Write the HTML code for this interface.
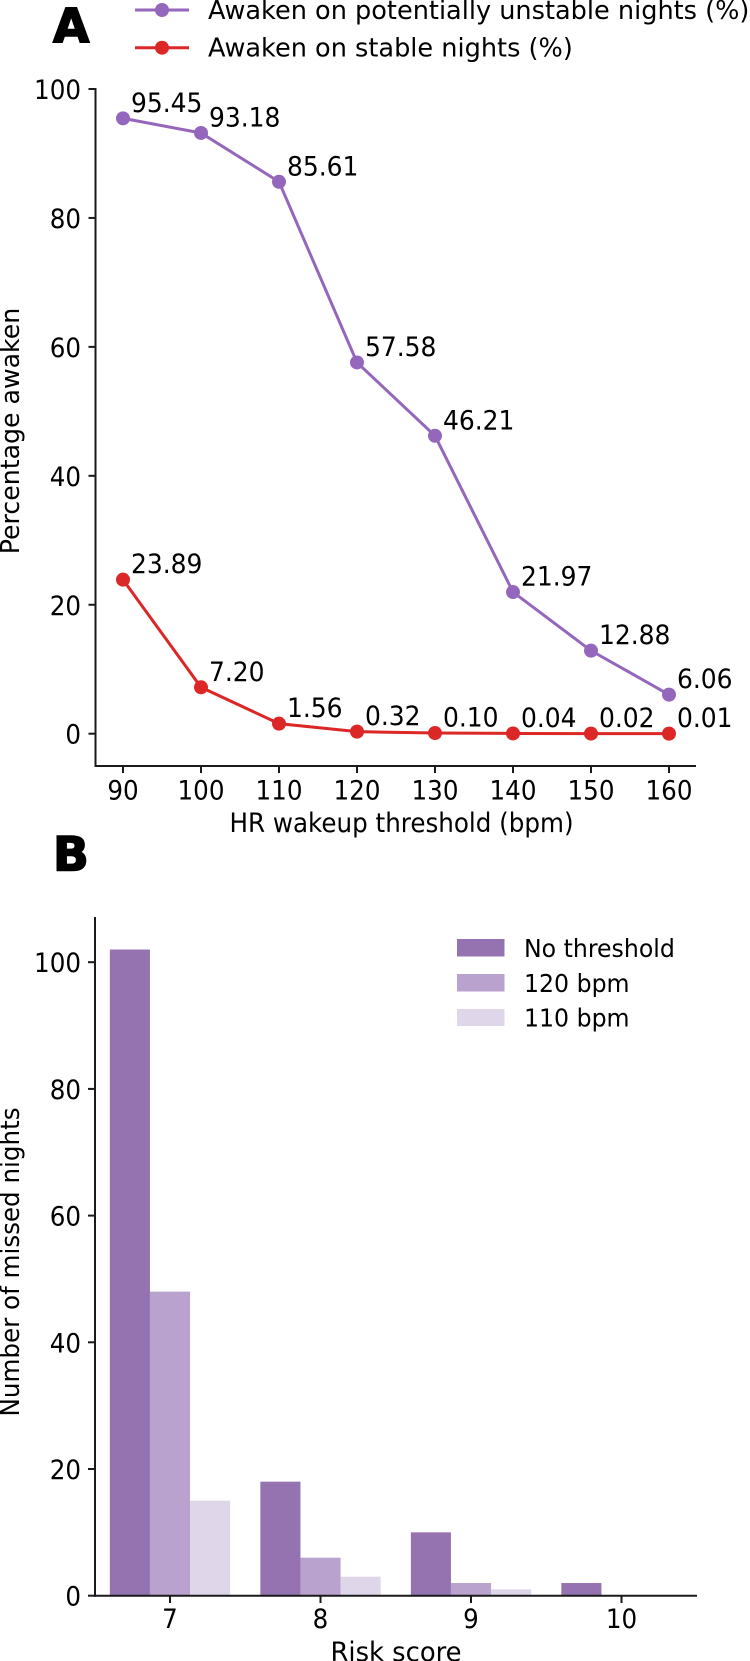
<!DOCTYPE html>
<html lang="en">
<head>
<meta charset="utf-8">
<title>Awakening chart</title>
<style>
html,body{margin:0;padding:0;background:#fff;}
body{width:750px;height:1661px;overflow:hidden;}
svg{display:block;}
text{font-family:"DejaVu Sans","Liberation Sans",sans-serif;fill:#000;}
</style>
</head>
<body>
<svg id="fig" xmlns="http://www.w3.org/2000/svg" width="750" height="1661" viewBox="0 0 750 1661"></svg>
<script>
// Panel A data
const thresholds = [90, 100, 110, 120, 130, 140, 150, 160];
const unstableValues = [95.45, 93.18, 85.61, 57.58, 46.21, 21.97, 12.88, 6.06];
const stableValues = [23.89, 7.20, 1.56, 0.32, 0.10, 0.04, 0.02, 0.01];
const yTicksA = [0, 20, 40, 60, 80, 100];
// Panel B data
const riskScores = [7, 8, 9, 10];
const noThreshold = [102, 18, 10, 2];
const bpm120 = [48, 6, 2, 0];
const bpm110 = [15, 3, 1, 0];
const yTicksB = [0, 20, 40, 60, 80, 100];

const NS = 'http://www.w3.org/2000/svg';
const fig = document.getElementById('fig');
const FS = 24.6;
const AXIS = '#1a1a1a';
const PURPLE = '#9467bd';
const RED = '#dc2727';
const BAR1 = '#9473b0';
const BAR2 = '#b9a2cd';
const BAR3 = '#dfd6e9';
const MARKER_R = 7;
const LINE_W = 3;

function mk(tag, attrs, text) {
  const el = document.createElementNS(NS, tag);
  for (const k in attrs) el.setAttribute(k, attrs[k]);
  if (text !== undefined) el.textContent = text;
  fig.appendChild(el);
  return el;
}
// text placed at (x, y) with independent horizontal / vertical stretch
function label(x, y, str, sx, sy, anchor, rotate) {
  const tf = 'translate(' + x + ',' + y + ')' + (rotate ? ' rotate(' + rotate + ')' : '') + ' scale(' + sx + ',' + sy + ')';
  return mk('text', {x: 0, y: 0, 'font-size': FS, 'text-anchor': anchor || 'start', transform: tf}, str);
}

// axis functions
const xA = v => 123 + (v - 90) * 7.8;
const yA = v => 733.7 - v * 6.447;
const xB = v => 170 + (v - 7) * 150.5;
const yB = v => 1595.7 - v * 6.335;

// ---------- Panel A ----------
let el = mk('text', {x: 53, y: 42.5, 'font-size': 47, 'font-weight': 'bold', stroke: '#000', 'stroke-width': 1.6}, 'A');



el = mk('line', {x1: 135, x2: 189, y1: 10, y2: 10, stroke: PURPLE, 'stroke-width': LINE_W});


el = mk('circle', {cx: 162, cy: 10, r: MARKER_R, fill: PURPLE});


el = label(208, 19, 'Awaken on potentially unstable nights (%)', 1.04, 1.06);



el = mk('line', {x1: 135, x2: 189, y1: 47.7, y2: 47.7, stroke: RED, 'stroke-width': LINE_W});


el = mk('circle', {cx: 162, cy: 47.7, r: MARKER_R, fill: RED});


el = label(208, 56.7, 'Awaken on stable nights (%)', 1.04, 1.06);



el = mk('line', {x1: 95.5, x2: 95.5, y1: 88, y2: 767, stroke: AXIS, 'stroke-width': 2});


el = mk('line', {x1: 94.5, x2: 696, y1: 766, y2: 766, stroke: AXIS, 'stroke-width': 2});



yTicksA.forEach(function (t) {
  const tick = mk('line', {x1: 88.5, x2: 95.5, y1: yA(t), y2: yA(t), stroke: AXIS, 'stroke-width': 2});
  
  
  const lab = label(81, yA(t) + 10, String(t), 1, 1.08, 'end');
  
  
});
thresholds.forEach(function (t) {
  const tick = mk('line', {x1: xA(t), x2: xA(t), y1: 766, y2: 773, stroke: AXIS, 'stroke-width': 2});
  
  
  const lab = label(xA(t), 799.5, String(t), 1, 1.08, 'middle');
  
  
});

el = label(401.5, 832, 'HR wakeup threshold (bpm)', 1, 1.08, 'middle');


el = label(19, 431, 'Percentage awaken', 1.025, 1.04, 'middle', -90);



function drawSeries(values, color, name) {
  const pts = values.map((v, i) => xA(thresholds[i]) + ',' + yA(v)).join(' ');
  const line = mk('polyline', {points: pts, fill: 'none', stroke: color, 'stroke-width': LINE_W});
  
  
  values.forEach(function (v, i) {
    const dot = mk('circle', {cx: xA(thresholds[i]), cy: yA(v), r: MARKER_R, fill: color});
    
    
    const lab = label(xA(thresholds[i]) + 8, yA(v) - 6.5, v.toFixed(2), 1.015, 1.08);
    
    
  });
}
drawSeries(unstableValues, PURPLE, 'unstable-series');
drawSeries(stableValues, RED, 'stable-series');

// ---------- Panel B ----------
el = mk('text', {x: 53, y: 870.5, 'font-size': 47, 'font-weight': 'bold', stroke: '#000', 'stroke-width': 1.6}, 'B');



const BW = 40.1;
function drawBars(values, color, slot, name) {
  values.forEach(function (v, i) {
    const bar = mk('rect', {x: xB(riskScores[i]) + (slot - 1.5) * BW, y: yB(v), width: BW, height: yB(0) - yB(v), fill: color});
    
    
  });
}
drawBars(noThreshold, BAR1, 0, 'bar-no-threshold');
drawBars(bpm120, BAR2, 1, 'bar-120-bpm');
drawBars(bpm110, BAR3, 2, 'bar-110-bpm');

el = mk('line', {x1: 95, x2: 95, y1: 917, y2: 1596.7, stroke: AXIS, 'stroke-width': 2});


el = mk('line', {x1: 94, x2: 697, y1: 1595.7, y2: 1595.7, stroke: AXIS, 'stroke-width': 2});



yTicksB.forEach(function (t) {
  const tick = mk('line', {x1: 88, x2: 95, y1: yB(t), y2: yB(t), stroke: AXIS, 'stroke-width': 2});
  
  
  const lab = label(81, yB(t) + 10, String(t), 1, 1.08, 'end');
  
  
});
riskScores.forEach(function (t) {
  const tick = mk('line', {x1: xB(t), x2: xB(t), y1: 1595.7, y2: 1603, stroke: AXIS, 'stroke-width': 2});
  
  
  const lab = label(xB(t), 1628, String(t), 1, 1.08, 'middle');
  
  
});

el = label(396, 1661, 'Risk score', 1.05, 1.08, 'middle');


el = label(19, 1262, 'Number of missed nights', 1, 1.04, 'middle', -90);



el = mk('rect', {x: 457, y: 939, width: 47.5, height: 17.5, fill: BAR1});


el = label(524, 957, 'No threshold', 0.96, 1);


el = mk('rect', {x: 457, y: 974, width: 47.5, height: 17.5, fill: BAR2});


el = label(524, 992, '120 bpm', 0.96, 1);


el = mk('rect', {x: 457, y: 1009, width: 47.5, height: 17, fill: BAR3});


el = label(524, 1026.5, '110 bpm', 0.96, 1);


</script>
</body>
</html>
